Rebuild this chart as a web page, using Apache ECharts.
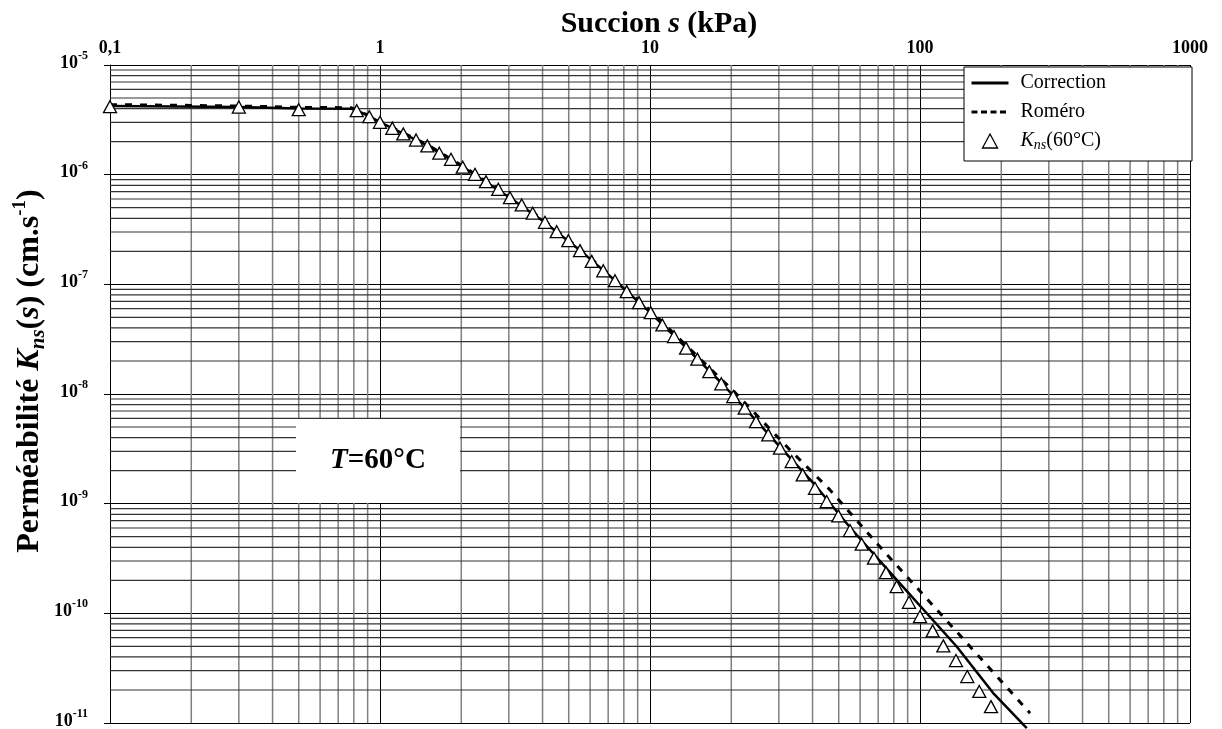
<!DOCTYPE html>
<html><head><meta charset="utf-8">
<script src="https://cdn.jsdelivr.net/npm/echarts@6/dist/echarts.min.js"></script>
<style>html,body{margin:0;padding:0;background:#fff}#c{width:1222px;height:729px}</style>
</head><body><div id="c"></div>
<script>
// ---- axis ticks ----
const xTickValues = [0.1, 1, 10, 100, 1000];
const xTickLabels = ['0,1', '1', '10', '100', '1000'];
const yTickValues = [1e-11, 1e-10, 1e-9, 1e-8, 1e-7, 1e-6, 1e-5];
const yTickExponents = ['-11', '-10', '-9', '-8', '-7', '-6', '-5'];
const minorMultipliers = [2, 3, 4, 5, 6, 7, 8, 9];
const xDecades = [0.1, 1, 10, 100];
const yDecades = [1e-11, 1e-10, 1e-9, 1e-8, 1e-7, 1e-6];

// ---- measured points K_ns(60°C) ----
const succionMeasured = [0.1, 0.3, 0.5, 0.82, 0.913, 1.0, 1.111, 1.22, 1.36, 1.497, 1.658, 1.832, 2.025, 2.248, 2.47, 2.742, 3.03, 3.348, 3.678, 4.084, 4.512, 4.983, 5.505, 6.083, 6.714, 7.42, 8.2, 9.11, 10.06, 11.11, 12.27, 13.6, 14.97, 16.58, 18.37, 20.35, 22.42, 24.7, 27.42, 30.3, 33.48, 36.78, 40.84, 45.12, 49.83, 55.05, 60.83, 67.52, 74.82, 81.97, 91.05, 100, 111.4, 122.0, 135.9, 149.7, 165.8, 183.2];
const kMeasured = [4.17e-6, 4.14e-6, 3.91e-6, 3.83e-6, 3.38e-6, 3.0e-6, 2.65e-6, 2.35e-6, 2.07e-6, 1.83e-6, 1.57e-6, 1.38e-6, 1.17e-6, 1.008e-6, 8.63e-7, 7.36e-7, 6.17e-7, 5.29e-7, 4.45e-7, 3.68e-7, 3.02e-7, 2.5e-7, 2.03e-7, 1.62e-7, 1.33e-7, 1.08e-7, 8.58e-8, 6.81e-8, 5.52e-8, 4.26e-8, 3.34e-8, 2.62e-8, 2.08e-8, 1.6e-8, 1.24e-8, 9.47e-9, 7.42e-9, 5.6e-9, 4.24e-9, 3.21e-9, 2.42e-9, 1.83e-9, 1.38e-9, 1.045e-9, 7.74e-10, 5.69e-10, 4.27e-10, 3.18e-10, 2.35e-10, 1.75e-10, 1.26e-10, 9.35e-11, 6.92e-11, 5.05e-11, 3.71e-11, 2.65e-11, 1.94e-11, 1.41e-11];

// ---- Correction curve ----
const succionCorrection = [0.1, 0.3, 0.5, 0.78, 0.82, 0.91, 1.0, 1.5, 2.0, 3.0, 4.0, 5.5, 7.4, 10, 13.6, 18.4, 24.7, 30.3, 40.2, 55, 82, 136.7, 186.3, 248.5];
const kCorrection = [4.23e-6, 4.14e-6, 4.01e-6, 4.0e-6, 3.85e-6, 3.42e-6, 3.02e-6, 1.84e-6, 1.2e-6, 6.25e-7, 3.8e-7, 2.05e-7, 1.09e-7, 5.55e-8, 2.65e-8, 1.26e-8, 5.75e-9, 3.3e-9, 1.55e-9, 6.1e-10, 2.02e-10, 4.98e-11, 1.885e-11, 8.98e-12];

// ---- Roméro curve ----
const succionRomero = [0.1, 0.2, 0.35, 0.5, 0.78, 0.82, 0.91, 1.0, 1.5, 2.0, 3.0, 4.0, 5.5, 7.4, 10, 15, 20.35, 33, 46.4, 69.1, 102.9, 153.2, 255.6];
const kRomero = [4.35e-6, 4.28e-6, 4.2e-6, 4.11e-6, 4.08e-6, 3.9e-6, 3.45e-6, 3.06e-6, 1.87e-6, 1.22e-6, 6.4e-7, 3.9e-7, 2.1e-7, 1.12e-7, 5.8e-8, 2.2e-8, 1.07e-8, 3.09e-9, 1.336e-9, 4.36e-10, 1.475e-10, 4.98e-11, 1.23e-11];

const FONT = '"Liberation Serif", "Times New Roman", serif';
const xMinor = [];
xDecades.forEach(d => minorMultipliers.forEach(m => xMinor.push(+(d * m).toPrecision(3))));
const yMinor = [];
yDecades.forEach(d => minorMultipliers.forEach(m => yMinor.push(+(d * m).toPrecision(3))));
const X_MIN = xTickValues[0], X_MAX = xTickValues[xTickValues.length - 1];
const Y_MIN = yTickValues[0], Y_MAX = yTickValues[yTickValues.length - 1];

const zip = (a, b) => a.map((v, i) => [v, b[i]]);
const chart = echarts.init(document.getElementById('c'), null, {renderer: 'canvas'});

const gridSeries = [];
xMinor.forEach(v => gridSeries.push({
  type: 'line', silent: true, z: 1, symbol: 'none', showSymbol: false,
  data: [[v, Y_MIN], [v, Y_MAX]],
  lineStyle: {color: '#808080', width: 1.5}, emphasis: {disabled: true}
}));
yMinor.forEach(v => gridSeries.push({
  type: 'line', silent: true, z: 1, symbol: 'none', showSymbol: false,
  data: [[X_MIN, v], [X_MAX, v]],
  lineStyle: {color: '#333', width: 1.2}, emphasis: {disabled: true}
}));

const option = {
  animation: false,
  backgroundColor: '#fff',
  grid: {left: 110, top: 65, width: 1080, height: 658, containLabel: false, outerBoundsMode: 'none'},
  xAxis: {
    type: 'log', logBase: 10, min: X_MIN, max: X_MAX, position: 'top',
    name: '{t|Succion }{ti|s}{t| (kPa)}',
    nameLocation: 'middle', nameGap: 26, nameMoveOverlap: false,
    nameTextStyle: {
      padding: [0, 0, 0, 18],
      rich: {
        t: {fontFamily: FONT, fontWeight: 'bold', fontSize: 30, color: '#000'},
        ti: {fontFamily: FONT, fontWeight: 'bold', fontStyle: 'italic', fontSize: 30, color: '#000'}
      }
    },
    axisLine: {show: true, lineStyle: {color: '#000', width: 1}},
    axisTick: {show: false},
    axisLabel: {
      margin: 8,
      fontFamily: FONT, fontWeight: 'bold', fontSize: 18, color: '#000',
      formatter: v => {
        const e = Math.round(Math.log10(v));
        const i = xTickValues.findIndex(t => Math.round(Math.log10(t)) === e);
        return i >= 0 ? xTickLabels[i] : '';
      }
    },
    splitLine: {show: true, lineStyle: {color: '#000', width: 1}}
  },
  yAxis: {
    type: 'log', logBase: 10, min: Y_MIN, max: Y_MAX,
    name: '{t|Perméabilité }{ti|K}{sub|ns}{t|(}{ti|s}{t|) (cm.s}{sup|-1}{t|)}',
    nameLocation: 'middle', nameGap: 61, nameRotate: 90, nameMoveOverlap: false,
    nameTextStyle: {
      padding: [0, 0, 0, 46],
      rich: {
        t: {fontFamily: FONT, fontWeight: 'bold', fontSize: 32, lineHeight: 38, color: '#000'},
        ti: {fontFamily: FONT, fontWeight: 'bold', fontStyle: 'italic', fontSize: 32, lineHeight: 38, color: '#000'},
        sub: {fontFamily: FONT, fontWeight: 'bold', fontStyle: 'italic', fontSize: 21, lineHeight: 21, color: '#000', verticalAlign: 'bottom'},
        sup: {fontFamily: FONT, fontWeight: 'bold', fontSize: 19, lineHeight: 19, color: '#000', verticalAlign: 'top'}
      }
    },
    axisLine: {show: true, lineStyle: {color: '#000', width: 1}},
    axisTick: {show: true, length: 6, lineStyle: {color: '#000', width: 1}},
    axisLabel: {
      margin: 22,
      padding: [0, 0, 8, 0],
      formatter: v => {
        const e = Math.round(Math.log10(v));
        const i = yTickValues.findIndex(t => Math.round(Math.log10(t)) === e);
        return i >= 0 ? '{b|10}{s|' + yTickExponents[i] + '}' : '';
      },
      rich: {
        b: {fontFamily: FONT, fontWeight: 'bold', fontSize: 18, lineHeight: 22, color: '#000', verticalAlign: 'bottom'},
        s: {fontFamily: FONT, fontWeight: 'bold', fontSize: 12, lineHeight: 12, color: '#000', verticalAlign: 'top'}
      }
    },
    splitLine: {show: true, lineStyle: {color: '#000', width: 1}}
  },
  legend: {
    data: [
      {name: 'Correction', itemStyle: {opacity: 0}, lineStyle: {width: 3}},
      {name: 'Roméro', itemStyle: {opacity: 0}, lineStyle: {type: [6, 3.5], width: 3}},
      {name: 'Kns(60°C)', icon: 'path://M7,0L14,13L0,13Z', itemStyle: {color: '#fff', borderColor: '#000', borderWidth: 1.3}}
    ],
    symbolKeepAspect: true,
    orient: 'vertical', left: 970, top: 73, padding: 0,
    itemWidth: 37, itemHeight: 14, itemGap: 9,
    backgroundColor: 'transparent',
    z: 6,
    formatter: name => {
      if (name === 'Kns(60°C)') return '{ki|K}{ks|ns}{kn|(60°C)}';
      return '{n|' + name + '}';
    },
    textStyle: {
      fontFamily: FONT, fontSize: 20, color: '#000',
      rich: {
        n: {fontFamily: FONT, fontSize: 20, lineHeight: 22, color: '#000', padding: [0, 0, 0, 7]},
        ki: {fontFamily: FONT, fontStyle: 'italic', fontSize: 20, lineHeight: 22, color: '#000', padding: [0, 0, 0, 7]},
        ks: {fontFamily: FONT, fontStyle: 'italic', fontSize: 14, lineHeight: 14, color: '#000', verticalAlign: 'bottom'},
        kn: {fontFamily: FONT, fontSize: 20, lineHeight: 22, color: '#000'}
      }
    }
  },
  graphic: {
    elements: [
      {type: 'rect', z: 5, silent: true, shape: {x: 964, y: 67, width: 228, height: 94},
        style: {fill: '#fff', stroke: '#000', lineWidth: 1}},
      {type: 'rect', z: 5, silent: true, shape: {x: 296, y: 419, width: 164, height: 84},
        style: {fill: '#fff', stroke: null}},
      {type: 'text', z: 6, silent: true, x: 378, y: 461,
        style: {
          text: '{i|T}{n|=60°C}', align: 'center', verticalAlign: 'middle',
          rich: {
            i: {fontFamily: FONT, fontWeight: 'bold', fontStyle: 'italic', fontSize: 29, fill: '#000'},
            n: {fontFamily: FONT, fontWeight: 'bold', fontSize: 29, fill: '#000'}
          }
        }}
    ]
  },
  series: gridSeries.concat([
    {
      name: 'Correction', type: 'line', z: 3, clip: false,
      data: zip(succionCorrection, kCorrection),
      showSymbol: false, symbol: 'none', smooth: false,
      lineStyle: {color: '#000', width: 2.5, type: 'solid'},
      itemStyle: {color: '#000'}
    },
    {
      name: 'Roméro', type: 'line', z: 3,
      data: zip(succionRomero, kRomero),
      showSymbol: false, symbol: 'none', smooth: false,
      lineStyle: {color: '#000', width: 3, type: [7, 8]},
      itemStyle: {color: '#000'}
    },
    {
      name: 'Kns(60°C)', type: 'scatter', z: 4,
      data: zip(succionMeasured, kMeasured),
      symbol: 'triangle', symbolSize: [13, 12],
      itemStyle: {color: '#fff', borderColor: '#000', borderWidth: 1.3, opacity: 1}
    }
  ])
};
chart.setOption(option);
</script>
</body></html>
